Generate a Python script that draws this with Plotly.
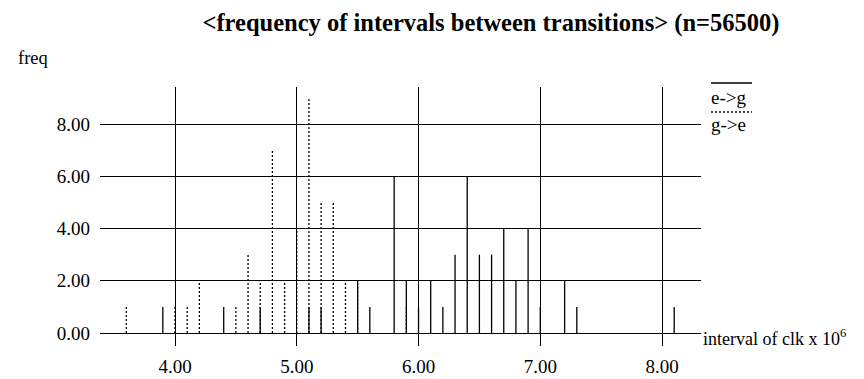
import plotly.graph_objects as go

# e->g (solid bars)
eg_x = [3.9, 4.4, 4.7, 5.1, 5.2, 5.5, 5.6, 5.8, 5.9, 6.0, 6.1, 6.2, 6.3, 6.4, 6.5, 6.6, 6.7, 6.8, 6.9, 7.0, 7.2, 7.3, 8.1]
eg_y = [1, 1, 1, 1, 1, 2, 1, 6, 2, 1, 2, 1, 3, 6, 3, 3, 4, 2, 4, 1, 2, 1, 1]
# g->e (dotted bars)
ge_x = [3.6, 4.0, 4.1, 4.2, 4.5, 4.6, 4.7, 4.8, 4.9, 5.0, 5.1, 5.2, 5.3, 5.4, 5.5, 5.9]
ge_y = [1, 1, 1, 2, 1, 3, 2, 7, 2, 4, 9, 5, 5, 2, 2, 1]

x_ticks = [4, 5, 6, 7, 8]
x_labels = ["4.00", "5.00", "6.00", "7.00", "8.00"]
y_ticks = [0, 2, 4, 6, 8]
y_labels = ["0.00", "2.00", "4.00", "6.00", "8.00"]

FONT = "'Liberation Serif', 'Times New Roman', Times, serif"


def stems(xs, ys):
    px, py = [], []
    for x, y in zip(xs, ys):
        px += [x, x, None]
        py += [0, y, None]
    return px, py


fig = go.Figure()
gx, gy = stems(ge_x, ge_y)
fig.add_trace(go.Scatter(x=gx, y=gy, mode="lines", name="g->e",
                         line=dict(color="black", width=1.3, dash="2px,2px")))
ex, ey = stems(eg_x, eg_y)
fig.add_trace(go.Scatter(x=ex, y=ey, mode="lines", name="e->g",
                         line=dict(color="black", width=1.3)))

fig.update_layout(
    template="none",
    width=864, height=379,
    margin=dict(l=100, r=163, t=87, b=46, autoexpand=False),
    paper_bgcolor="white", plot_bgcolor="white",
    showlegend=False,
    font=dict(family=FONT, size=18, color="black"),
    title=dict(text="<b>&lt;frequency of intervals between transitions&gt; (n=56500)</b>",
               font=dict(family=FONT, size=24.5, color="black"),
               x=491 / 864, xanchor="center", xref="container",
               y=1 - 22 / 379, yanchor="middle", yref="container"),
    xaxis=dict(range=[3.384, 8.32], tickvals=x_ticks, ticktext=x_labels,
               showgrid=True, gridcolor="black", gridwidth=1,
               ticks="outside", ticklen=12, tickcolor="black", tickwidth=1,
               showline=True, linecolor="black", linewidth=1,
               zeroline=False, ticklabelstandoff=4, automargin=False,
               tickfont=dict(family=FONT, size=19)),
    yaxis=dict(range=[0, 9.42], tickvals=y_ticks, ticktext=y_labels,
               showgrid=True, gridcolor="black", gridwidth=1,
               ticks="", showline=False, zeroline=False,
               ticklabelstandoff=9, automargin=False,
               tickfont=dict(family=FONT, size=19)),
)

fig.add_annotation(text="freq", xref="paper", yref="paper",
                   x=(16 - 100) / 601, y=(333 - 58) / 246,
                   xanchor="left", yanchor="middle", showarrow=False,
                   font=dict(family=FONT, size=18.5))
fig.add_annotation(text="interval of clk x 10<sup>6</sup>", xref="paper", yref="paper",
                   x=(701 - 100) / 601, y=(333 - 337) / 246,
                   xanchor="left", yanchor="middle", showarrow=False,
                   font=dict(family=FONT, size=18))

# legend: line above label
fig.add_shape(type="line", xref="paper", yref="paper",
              x0=(711 - 100) / 601, x1=(752 - 100) / 601,
              y0=(333 - 83) / 246, y1=(333 - 83) / 246,
              line=dict(color="black", width=1.3))
fig.add_annotation(text="e-&gt;g", xref="paper", yref="paper",
                   x=(709 - 100) / 601, y=(333 - 97) / 246,
                   xanchor="left", yanchor="middle", showarrow=False,
                   font=dict(family=FONT, size=19))
fig.add_shape(type="line", xref="paper", yref="paper",
              x0=(711 - 100) / 601, x1=(752 - 100) / 601,
              y0=(333 - 112) / 246, y1=(333 - 112) / 246,
              line=dict(color="black", width=1.3, dash="2px,2px"))
fig.add_annotation(text="g-&gt;e", xref="paper", yref="paper",
                   x=(709 - 100) / 601, y=(333 - 125) / 246,
                   xanchor="left", yanchor="middle", showarrow=False,
                   font=dict(family=FONT, size=19))

fig.write_html("out.html",
               config={"displayModeBar": False, "staticPlot": True},
               post_script="document.body.style.margin='0';document.body.style.padding='0';document.body.style.overflow='hidden';")
